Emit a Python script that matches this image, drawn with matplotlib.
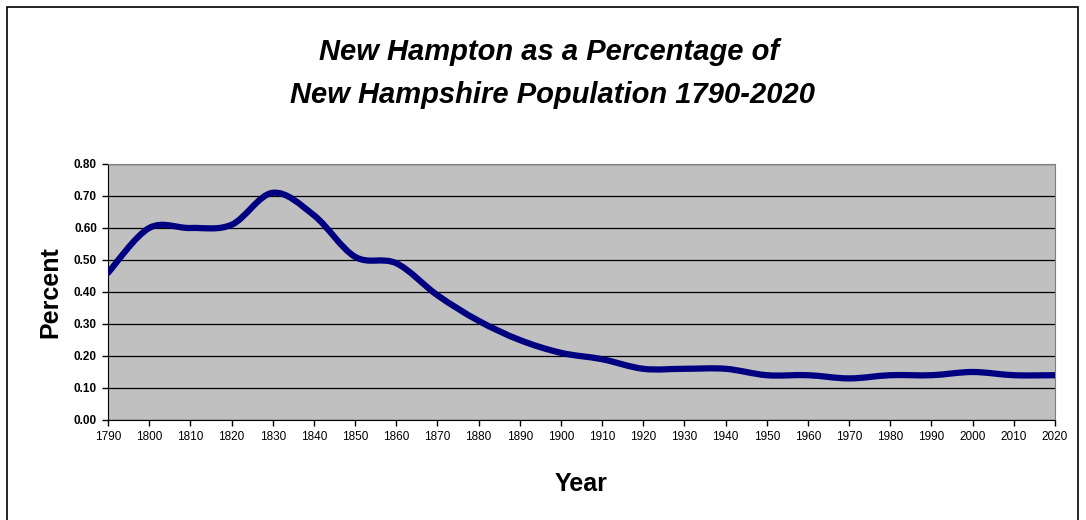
import matplotlib
matplotlib.use("Agg")
import matplotlib.pyplot as plt
from matplotlib.path import Path
from matplotlib.patches import PathPatch, Rectangle

plt.rcParams["font.family"] = ["Liberation Sans", "DejaVu Sans"]

# New Hampton share of New Hampshire population, percent, by census year
years = [1790, 1800, 1810, 1820, 1830, 1840, 1850, 1860, 1870, 1880, 1890, 1900,
         1910, 1920, 1930, 1940, 1950, 1960, 1970, 1980, 1990, 2000, 2010, 2020]
percent = [0.46, 0.60, 0.60, 0.61, 0.71, 0.64, 0.51, 0.49, 0.39, 0.31, 0.25, 0.21,
           0.19, 0.16, 0.16, 0.16, 0.14, 0.14, 0.13, 0.14, 0.14, 0.15, 0.14, 0.14]
y_ticks = [0.0, 0.1, 0.2, 0.3, 0.4, 0.5, 0.6, 0.7, 0.8]


def smooth_path(xs, ys):
    # Excel-style smoothed line: cubic Bezier segments through every point
    verts = [(xs[0], ys[0])]
    codes = [Path.MOVETO]
    n = len(xs)
    for i in range(n - 1):
        x0, y0 = xs[max(i - 1, 0)], ys[max(i - 1, 0)]
        x1, y1 = xs[i], ys[i]
        x2, y2 = xs[i + 1], ys[i + 1]
        x3, y3 = xs[min(i + 2, n - 1)], ys[min(i + 2, n - 1)]
        c1 = (x1 + (x2 - x0) / 6, y1 + (y2 - y0) / 6)
        c2 = (x2 - (x3 - x1) / 6, y2 - (y3 - y1) / 6)
        verts += [c1, c2, (x2, y2)]
        codes += [Path.CURVE4] * 3
    return Path(verts, codes)


fig = plt.figure(figsize=(10.86, 5.2), dpi=100)
# chart frame; bottom edge runs off the image as in the original
fig.patches.append(Rectangle((7 / 1086, -0.05), 1071 / 1086, 1.05 - 7 / 520, transform=fig.transFigure,
                             fill=False, edgecolor="black", linewidth=1.2))

ax = fig.add_axes([108 / 1086, 100 / 520, 947 / 1086, 256 / 520])
ax.set_facecolor("#C0C0C0")
ax.set_xlim(1790, 2020)
ax.set_ylim(0, 0.8)

ax.add_patch(PathPatch(smooth_path(years, percent), fill=False, edgecolor="#000080",
                       linewidth=4.5, capstyle="round", joinstyle="round", zorder=3))

ax.set_yticks(y_ticks)
ax.set_yticklabels([f"{v:.2f}" for v in y_ticks], fontsize=8.5, fontweight="bold")
ax.set_xticks(years)
ax.set_xticklabels([str(y) for y in years], fontsize=8.5)
ax.tick_params(axis="both", direction="out", length=4, width=1, color="black", pad=4)
ax.grid(axis="y", color="black", linewidth=0.9)
ax.set_axisbelow(True)

for side in ("top", "right"):
    ax.spines[side].set_color("#808080")
for side in ("left", "bottom"):
    ax.spines[side].set_color("black")

ax.set_xlabel("Year", fontsize=18, fontweight="bold", labelpad=21)
ax.set_ylabel("Percent", fontsize=18, fontweight="bold", labelpad=8)

fig.text(549 / 1086, 1 - 52 / 520, "New Hampton as a Percentage of", ha="center", va="center",
         fontsize=21, fontweight="bold", fontstyle="italic")
fig.text(553 / 1086, 1 - 95 / 520, "New Hampshire Population 1790-2020", ha="center", va="center",
         fontsize=21, fontweight="bold", fontstyle="italic")

fig.savefig("out.png", dpi=100)
